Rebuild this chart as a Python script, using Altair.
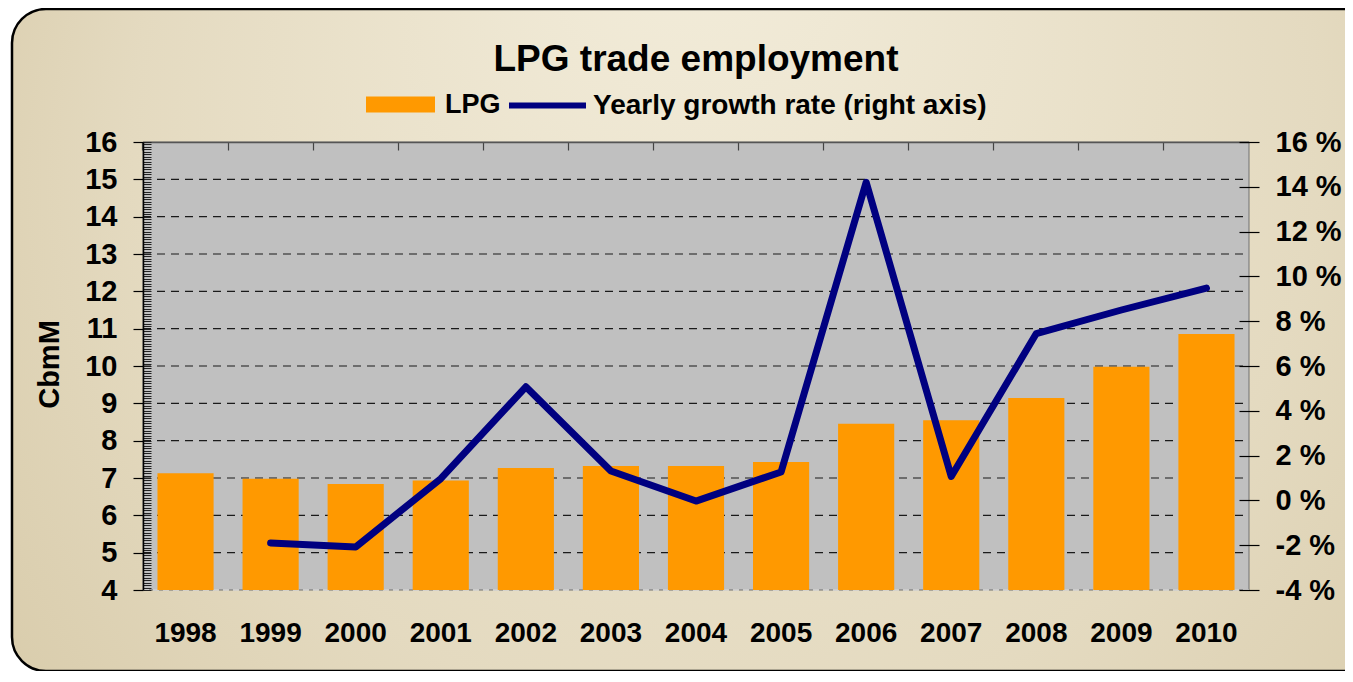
import altair as alt
import pandas as pd

# ---------------- data ----------------
years = ["1998", "1999", "2000", "2001", "2002", "2003", "2004",
         "2005", "2006", "2007", "2008", "2009", "2010"]
lpg = [7.13, 6.98, 6.84, 6.93, 7.27, 7.32, 7.32, 7.43, 8.45, 8.55, 9.14, 9.98, 10.86]

growth_years = ["1999", "2000", "2001", "2002", "2003", "2004",
                "2005", "2006", "2007", "2008", "2009", "2010"]
growth = [-1.9, -2.08, 0.97, 5.07, 1.31, -0.03, 1.27, 14.2, 1.07, 7.45, 8.5, 9.48]

left_ticks = [4, 5, 6, 7, 8, 9, 10, 11, 12, 13, 14, 15, 16]
grid_values = [5, 6, 7, 8, 9, 10, 11, 12, 13, 14, 15]
right_ticks = [-4, -2, 0, 2, 4, 6, 8, 10, 12, 14, 16]
minor_ticks = [4 + i / 15 for i in range(0, 181)]
baseline_value = 4

bar_name = "LPG"
line_name = "Yearly growth rate (right axis)"

bars_df = pd.DataFrame({"year": years, "lpg": lpg, "series": bar_name})
line_df = pd.DataFrame({"year": growth_years, "growth": growth, "series": line_name})
grid_df = pd.DataFrame({"v": grid_values})

# ---------------- layout ----------------
W, H = 1106, 448
FONT = "Liberation Sans"
PI = 0.34
x_scale = alt.Scale(domain=years, paddingInner=PI, paddingOuter=PI / 2)
left_scale = alt.Scale(domain=[4, 16], zero=False, nice=False)
right_scale = alt.Scale(domain=[-4, 16], zero=False, nice=False)

bg_gradient = {
    "gradient": "radial",
    "x1": 0.45, "y1": 0.2, "r1": 0,
    "x2": 0.5, "y2": 0.5, "r2": 0.72,
    "stops": [
        {"offset": 0, "color": "#F3EDDB"},
        {"offset": 0.55, "color": "#E4DAC0"},
        {"offset": 1, "color": "#D0C19B"},
    ],
}

one = alt.Data(values=[{"k": 1}])

background = alt.Chart(one).mark_rect(
    fill=bg_gradient, stroke="#000000", strokeWidth=2.5, cornerRadius=34
).encode(
    x=alt.value(-131), x2=alt.value(W + 260),
    y=alt.value(-133), y2=alt.value(H + 81),
)

plot_bg = alt.Chart(one).mark_rect(
    fill="#C0C0C0", stroke="#707070", strokeWidth=1
).encode(
    x=alt.value(0), x2=alt.value(W), y=alt.value(0), y2=alt.value(H)
)

grid = alt.Chart(grid_df).mark_rule(
    color="#1A1A1A", strokeWidth=1.2, strokeDash=[8, 6]
).encode(
    y=alt.Y("v:Q", scale=left_scale,
            axis=alt.Axis(orient="right", offset=-W, values=minor_ticks,
                          labels=False, domain=False, grid=False,
                          tickSize=8, tickColor="#222222", tickWidth=1,
                          title=None, zindex=1)),
    x=alt.value(0), x2=alt.value(W),
)

bottom_line = alt.Chart(one).mark_rule(
    color="#FFFFFF", strokeWidth=1.2, strokeDash=[6, 4]
).encode(x=alt.value(0), x2=alt.value(W), y=alt.value(H))

bars = alt.Chart(bars_df).mark_bar(color="#FF9900").encode(
    x=alt.X("year:N", scale=x_scale, sort=years,
            axis=alt.Axis(orient="bottom", title=None, domain=False, ticks=False,
                          grid=False, labelAngle=0, labelFont=FONT,
                          labelFontSize=28, labelFontWeight="bold",
                          labelColor="#000000", labelPadding=29,
                          labelBaseline="top", zindex=1)),
    y=alt.Y("lpg:Q", scale=left_scale,
            axis=alt.Axis(orient="left", values=left_ticks, grid=False,
                          domain=True, domainColor="#000000", domainWidth=1.5,
                          tickSize=10, tickColor="#000000", tickWidth=1.2,
                          labelFont=FONT, labelFontSize=29, labelFontWeight="bold",
                          labelColor="#000000", labelPadding=16,
                          title="CbmM", titleFont=FONT, titleFontSize=29,
                          titleFontWeight="bold", titleColor="#000000",
                          titleAngle=270, titleAlign="center",
                          titleBaseline="alphabetic", titleX=-85, titleY=222,
                          zindex=1)),
    y2=alt.datum(baseline_value),
    color=alt.Color("series:N",
                    scale=alt.Scale(domain=[bar_name], range=["#FF9900"]),
                    legend=alt.Legend(
                        orient="none", legendX=223, legendY=-72, title=None,
                        direction="horizontal", padding=0,
                        symbolType="M-1,-0.23L1,-0.23L1,0.23L-1,0.23Z",
                        symbolSize=4761, symbolStrokeWidth=0, symbolOpacity=1,
                        labelFont=FONT, labelFontSize=27, labelFontWeight="bold",
                        labelColor="#000000", labelOffset=10, labelLimit=600)),
)

line = alt.Chart(line_df).mark_line(
    strokeWidth=7, strokeCap="round", strokeJoin="round"
).encode(
    x=alt.X("year:N", scale=x_scale, sort=years,
            axis=alt.Axis(orient="bottom", offset=-H, labels=False, title=None,
                          grid=False, domain=True, domainColor="#555555",
                          domainWidth=1.5, ticks=True, tickSize=8,
                          tickColor="#444444", tickWidth=1.2,
                          bandPosition=-(PI / 2) / (1 - PI), zindex=1)),
    y=alt.Y("growth:Q", scale=right_scale,
            axis=alt.Axis(orient="right", values=right_ticks, grid=False,
                          domain=False, offset=-10, tickSize=20,
                          tickColor="#000000", tickWidth=1.2,
                          labelFont=FONT, labelFontSize=29, labelFontWeight="bold",
                          labelColor="#000000", labelPadding=16,
                          labelExpr="datum.value + ' %'", title=None, zindex=1)),
    stroke=alt.Stroke("series:N",
                      scale=alt.Scale(domain=[line_name], range=["#000080"]),
                      legend=alt.Legend(
                          orient="none", legendX=363, legendY=-78, title=None,
                          direction="horizontal", padding=0,
                          symbolType="stroke", symbolSize=5929,
                          symbolStrokeWidth=6,
                          labelFont=FONT, labelFontSize=28, labelFontWeight="bold",
                          labelColor="#000000", labelOffset=4, labelLimit=600)),
)

chart = alt.layer(background, plot_bg, grid, bottom_line, bars, line).resolve_scale(
    y="independent", color="independent", stroke="independent"
).resolve_axis(
    x="independent", y="independent"
).resolve_legend(
    color="independent", stroke="independent"
).properties(
    width=W, height=H,
    title=alt.TitleParams("LPG trade employment", font=FONT, fontSize=37,
                          fontWeight="bold", color="#000000", anchor="middle",
                          frame="group", baseline="alphabetic", offset=-100),
    autosize=alt.AutoSizeParams(type="none"),
    padding={"left": 135, "top": 134, "right": 96, "bottom": 81},
).configure(
    background="#FFFFFF"
).configure_view(
    stroke=None, fill=None
)

chart.save("out.html", embed_options={"renderer": "svg", "actions": False})
